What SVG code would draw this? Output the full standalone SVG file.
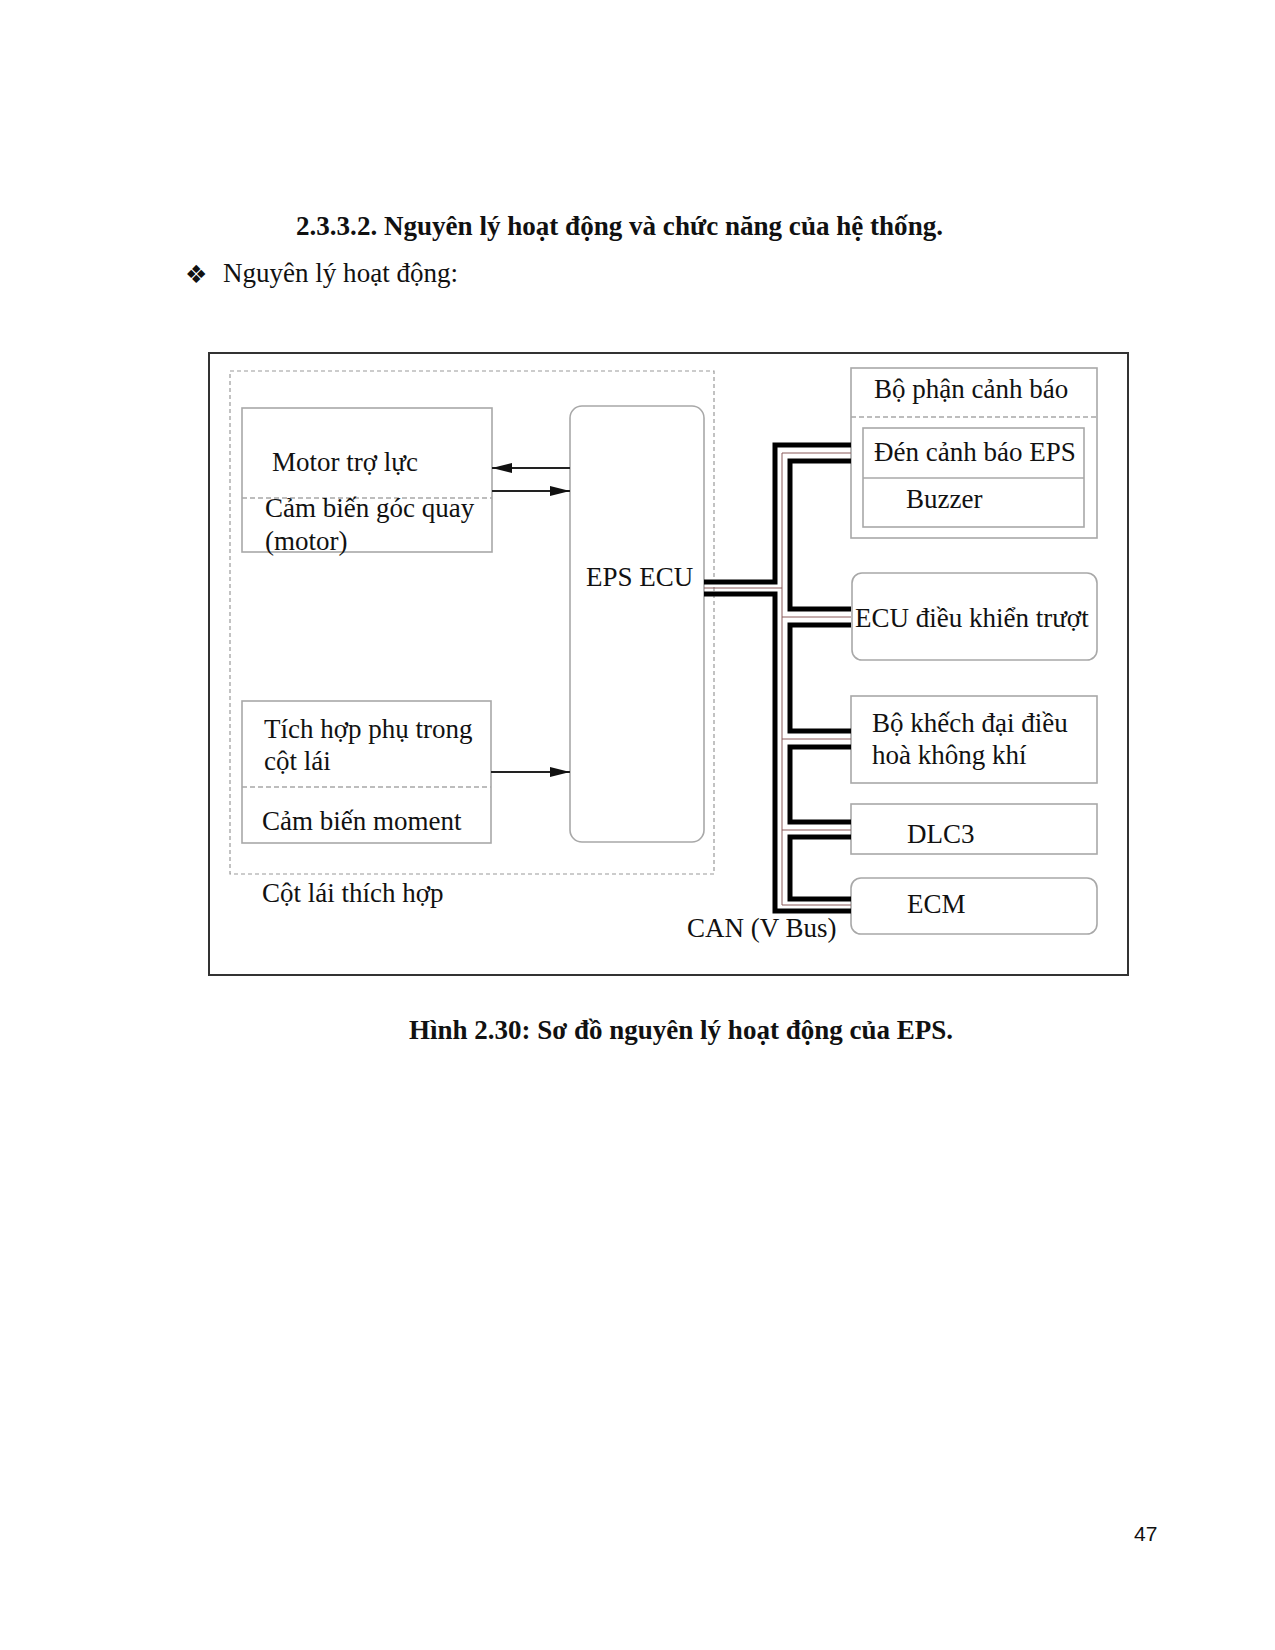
<svg xmlns="http://www.w3.org/2000/svg" width="1275" height="1650" viewBox="0 0 1275 1650">
<defs>
<marker id="ah" viewBox="0 0 20 10" refX="20" refY="5" markerWidth="20" markerHeight="10" markerUnits="userSpaceOnUse" orient="auto">
<path d="M0,0 L20,5 L0,10 z" fill="#111"/>
</marker>
<style>
text{font-family:"Liberation Serif","Times New Roman",serif;fill:#111}
.t{font-size:27px}
.box{fill:none;stroke:#a8a8a8;stroke-width:1.6}
.div{stroke:#a8a8a8;stroke-width:1.6;stroke-dasharray:5 3}
.frame{fill:none;stroke:#333;stroke-width:2}
.grp{fill:none;stroke:#9a9a9a;stroke-width:1.2;stroke-dasharray:4 3}
.arr{stroke:#222;stroke-width:1.8;fill:none;marker-end:url(#ah)}
.bus{fill:none;stroke:#000;stroke-width:5;stroke-linejoin:miter}
.thin{fill:none;stroke:#8a5a5a;stroke-width:1}
</style>
</defs>
<rect width="1275" height="1650" fill="#fff"/>

<text x="296" y="235" font-size="27" font-weight="bold" textLength="647" lengthAdjust="spacingAndGlyphs">2.3.3.2. Nguyên lý hoạt động và chức năng của hệ thống.</text>
<text x="185" y="283" font-size="25" style="font-family:'DejaVu Sans',sans-serif">❖</text>
<text x="223" y="282" font-size="27" textLength="235" lengthAdjust="spacingAndGlyphs">Nguyên lý hoạt động:</text>

<rect class="frame" x="209" y="353" width="919" height="622"/>

<g id="cot-lai-thich-hop">
<rect class="grp" x="230" y="371" width="484" height="503"/>
<text class="t" x="262" y="902">Cột lái thích hợp</text>
</g>

<g id="motor-tro-luc">
<rect class="box" x="242" y="408" width="250" height="144"/>
<line class="div" x1="242" y1="498" x2="492" y2="498"/>
<text class="t" x="272" y="471">Motor trợ lực</text>
<text class="t" x="265" y="517">Cảm biến góc quay</text>
<text class="t" x="265" y="550">(motor)</text>
</g>

<g id="tich-hop-phu">
<rect class="box" x="242" y="701" width="249" height="142"/>
<line class="div" x1="242" y1="787" x2="491" y2="787"/>
<text class="t" x="264" y="738">Tích hợp phụ trong</text>
<text class="t" x="264" y="770">cột lái</text>
<text class="t" x="262" y="830">Cảm biến moment</text>
</g>

<g id="eps-ecu">
<rect class="box" x="570" y="406" width="134" height="436" rx="12"/>
<text class="t" x="586" y="586">EPS ECU</text>
</g>

<g id="bo-phan-canh-bao">
<rect class="box" x="851" y="368" width="246" height="170"/>
<line class="div" x1="851" y1="417" x2="1097" y2="417"/>
<text class="t" x="874" y="398">Bộ phận cảnh báo</text>
<rect class="box" x="863" y="428" width="221" height="99"/>
<line class="box" x1="863" y1="478" x2="1084" y2="478"/>
<text class="t" x="874" y="461">Đén cảnh báo EPS</text>
<text class="t" x="906" y="508">Buzzer</text>
</g>

<g id="ecu-dieu-khien-truot">
<rect class="box" x="852" y="573" width="245" height="87" rx="10"/>
<text class="t" x="855" y="627">ECU điều khiển trượt</text>
</g>

<g id="bo-khech-dai">
<rect class="box" x="851" y="696" width="246" height="87"/>
<text class="t" x="872" y="732">Bộ khếch đại điều</text>
<text class="t" x="872" y="764">hoà không khí</text>
</g>

<g id="dlc3">
<rect class="box" x="851" y="804" width="246" height="50"/>
<text class="t" x="907" y="843">DLC3</text>
</g>

<g id="ecm">
<rect class="box" x="851" y="878" width="246" height="56" rx="10"/>
<text class="t" x="907" y="913">ECM</text>
</g>

<g id="connectors">
<line class="arr" x1="570" y1="468" x2="492" y2="468"/>
<line class="arr" x1="492" y1="491" x2="570" y2="491"/>
<line class="arr" x1="491" y1="772" x2="570" y2="772"/>

<path class="thin" d="M704,588 H782 M782,453 V905 M782,453 H851 M782,617 H851 M782,739 H851 M782,830 H851 M782,905 H851"/>
<path class="bus" d="M704,582 H775 V445 H851"/>
<path class="bus" d="M704,594 H775 V911 H851"/>
<path class="bus" d="M851,461 H790 V609 H851"/>
<path class="bus" d="M851,625 H790 V731 H851"/>
<path class="bus" d="M851,747 H790 V822 H851"/>
<path class="bus" d="M851,837 H790 V899 H851"/>
<text class="t" x="687" y="937">CAN (V Bus)</text>
</g>

<text x="409" y="1039" font-size="27" font-weight="bold" textLength="544" lengthAdjust="spacingAndGlyphs">Hình 2.30: Sơ đồ nguyên lý hoạt động của EPS.</text>
<text x="1134" y="1541" font-size="21" style="font-family:'Liberation Sans',Arial,sans-serif">47</text>
</svg>
